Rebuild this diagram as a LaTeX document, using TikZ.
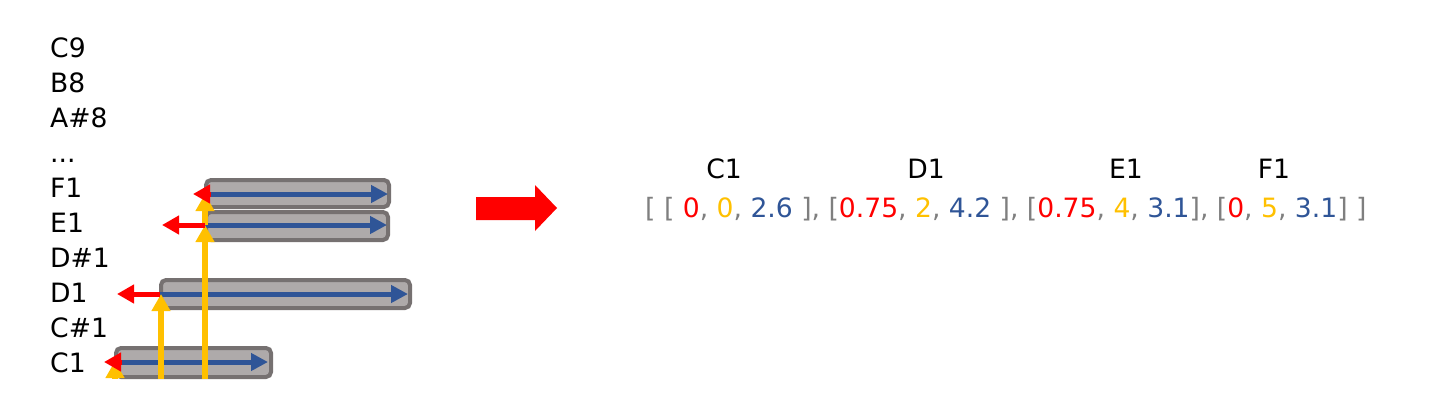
\documentclass[tikz,border=0pt]{standalone}
\usepackage{fontspec}
\setmainfont{DejaVu Sans}
\usetikzlibrary{arrows.meta}
\definecolor{boxfill}{HTML}{AEAAAA}
\definecolor{boxline}{HTML}{767171}
\definecolor{nblue}{HTML}{2F5597}
\definecolor{nred}{HTML}{FF0000}
\definecolor{nyel}{HTML}{FFC000}
\definecolor{ngray}{HTML}{7F7F7F}
\newcommand\tgray[1]{\textcolor{ngray}{#1}}
\newcommand\tred[1]{\textcolor{nred}{#1}}
\newcommand\tyel[1]{\textcolor{nyel}{#1}}
\newcommand\tblue[1]{\textcolor{nblue}{#1}}
\begin{document}
\begin{tikzpicture}[x=1pt,y=-1pt,
  lab/.style={inner sep=0pt, font=\fontsize{26.6}{32}\selectfont},
  notebox/.style={draw=boxline, fill=boxfill, line width=4pt, rounded corners=5pt, inner sep=0pt},
  bluearr/.style={draw=nblue, line width=5pt, -{Triangle[length=17pt,width=17pt]}},
  redarr/.style={draw=nred, line width=5pt, -{Triangle[length=17pt,width=18pt]}},
  yelarr/.style={draw=nyel, line width=5.5pt, -{Triangle[length=17pt,width=18pt]}}]
\useasboundingbox (0,0) rectangle (1439,415);

% pitch labels
\node[lab, anchor=base west] (lc9) at (50,57) {C9};
\node[lab, anchor=base west] (lb8) at (50,92) {B8};
\node[lab, anchor=base west] (la8) at (50,127) {A\#8};
\node[lab, anchor=base west] (ldots) at (50,162) {...};
\node[lab, anchor=base west] (lf1) at (50,197) {F1};
\node[lab, anchor=base west] (le1) at (50,232) {E1};
\node[lab, anchor=base west] (lds1) at (50,267) {D\#1};
\node[lab, anchor=base west] (ld1) at (50,302) {D1};
\node[lab, anchor=base west] (lcs1) at (50,337) {C\#1};
\node[lab, anchor=base west] (lc1) at (50,372) {C1};

% note boxes
\node[notebox, minimum width=183pt, minimum height=27pt] (bf1) at (297.5,193.5) {};
\node[notebox, minimum width=182pt, minimum height=28pt] (be1) at (297,226) {};
\node[notebox, minimum width=249pt, minimum height=28pt] (bd1) at (285.5,294) {};
\node[notebox, minimum width=155pt, minimum height=29pt] (bc1) at (193.5,362.5) {};

% coordinates
\coordinate (f1s) at (205,194); \coordinate (f1e) at (388,194);
\coordinate (e1s) at (205,225); \coordinate (e1e) at (387,225);
\coordinate (d1s) at (160,294); \coordinate (d1e) at (408,294);
\coordinate (c1s) at (118,362); \coordinate (c1e) at (268,362);
\coordinate (f1r) at (193,194); \coordinate (f1rb) at (211,194);
\coordinate (e1r) at (162,225);
\coordinate (d1r) at (117,294);
\coordinate (c1r) at (104,362); \coordinate (c1rb) at (122,362);
\coordinate (ya) at (161,379); \coordinate (yat) at (161,294);
\coordinate (yb) at (205,379);
\coordinate (yc) at (115,379); \coordinate (yct) at (115,361);

% blue arrows
\draw[bluearr] (f1s) -- (f1e);
\draw[bluearr] (e1s) -- (e1e);
\draw[bluearr] (d1s) -- (d1e);
\draw[bluearr] (c1s) -- (c1e);

% yellow arrows
\draw[yelarr] (ya) -- (yat);
\draw[yelarr] (yb) -- (e1s);
\draw[yelarr] (e1s) -- (f1s);
\draw[yelarr] (yc) -- (yct);

% red arrows
\draw[redarr] (f1rb) -- (f1r);
\draw[redarr] (e1s) -- (e1r);
\draw[redarr] (d1s) -- (d1r);
\draw[redarr] (c1rb) -- (c1r);

% big arrow
\fill[nred] (476,197) -- (535,197) -- (535,185) -- (557,208) -- (535,231) -- (535,220) -- (476,220) -- cycle;

% right side
\node[lab, anchor=base] (rc1) at (724,178) {C1};
\node[lab, anchor=base] (rd1) at (926,178) {D1};
\node[lab, anchor=base] (re1) at (1126,178) {E1};
\node[lab, anchor=base] (rf1) at (1274,178) {F1};
\node[lab, anchor=base west] (vec) at (645,217) {\tgray{[\ [\ }\tred{0}\tgray{,\ }\tyel{0}\tgray{,\ }\tblue{2.6}\tgray{\ ],\ [}\tred{0.75}\tgray{,\ }\tyel{2}\tgray{,\ }\tblue{4.2}\tgray{\ ],\ [}\tred{0.75}\tgray{,\ }\tyel{4}\tgray{,\ }\tblue{3.1}\tgray{],\ [}\tred{0}\tgray{,\ }\tyel{5}\tgray{,\ }\tblue{3.1}\tgray{]\ ]}};
\end{tikzpicture}
\end{document}
